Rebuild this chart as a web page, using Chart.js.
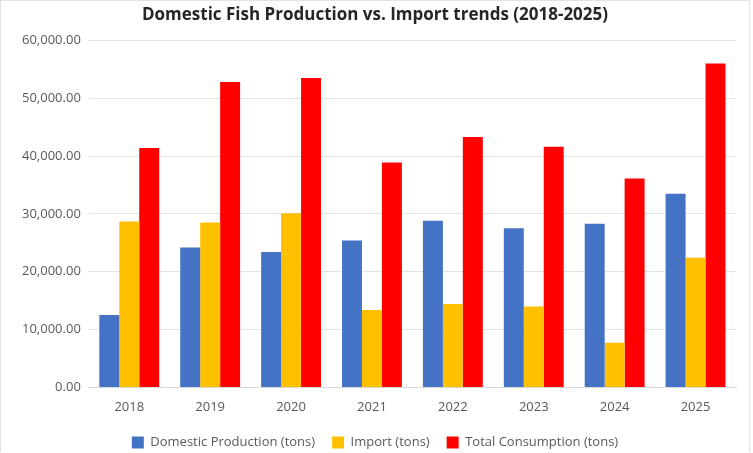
<!DOCTYPE html>
<html>
<head>
<meta charset="utf-8">
<script src="https://cdn.jsdelivr.net/npm/chart.js@4.4.1/dist/chart.umd.min.js"></script>
<style>
  html, body { margin: 0; padding: 0; background: #fff; }
  .frame { width: 750px; height: 452px; border: 1px solid #e3e3e3; border-bottom: none; box-sizing: border-box; position: relative; }
  canvas { position: absolute; left: -1px; top: -1px; }
</style>
</head>
<body>
<div class="frame"><canvas id="fishChart" width="753" height="453"></canvas></div>
<script>
// values (tons)
const years = ['2018', '2019', '2020', '2021', '2022', '2023', '2024', '2025']
const domesticProduction = [12500, 24200, 23400, 25400, 28800, 27500, 28300, 33500]
const imports = [28700, 28500, 30100, 13400, 14400, 14000, 7700, 22400]
const totalConsumption = [41400, 52800, 53500, 38900, 43300, 41600, 36100, 56000]

const seriesNames = ['Domestic Production (tons)', 'Import (tons)', 'Total Consumption (tons)']
const seriesColors = ['#4472C4', '#FFC000', '#FF0000']

const fontFamily = "'Open Sans', 'Liberation Sans', sans-serif"

function makeDataset(i, values) {
  return {
    label: seriesNames[i],
    data: values,
    backgroundColor: seriesColors[i],
    borderWidth: 0,
    categoryPercentage: 0.74,
    barPercentage: 1.0
  }
}

const ctx = document.getElementById('fishChart')
const myChart = new Chart(ctx, {
  type: 'bar',
  data: {
    labels: years,
    datasets: [
      makeDataset(0, domesticProduction),
      makeDataset(1, imports),
      makeDataset(2, totalConsumption)
    ]
  },
  options: {
    responsive: false,
    animation: false,
    devicePixelRatio: 1,
    // negative bottom padding: legend padding is big for the horizontal gaps, pull it back down
    layout: { padding: { left: 14, right: 17, top: 3, bottom: -6 } },
    plugins: {
      title: {
        display: true,
        text: 'Domestic Fish Production vs. Import trends (2018-2025)',
        color: '#262626',
        font: { family: fontFamily, size: 17, weight: 'bold' },
        padding: { top: 2, bottom: 15 }
      },
      legend: {
        position: 'bottom',
        labels: {
          color: '#595959',
          font: { family: fontFamily, size: 13 },
          boxWidth: 12,
          boxHeight: 12,
          padding: 17
        }
      },
      tooltip: { enabled: false }
    },
    scales: {
      x: {
        grid: { display: false },
        border: { display: true, color: '#d9d9d9' },
        ticks: {
          color: '#595959',
          font: { family: fontFamily, size: 13 },
          padding: 4
        }
      },
      y: {
        min: 0,
        max: 60000,
        grid: { color: '#e3e3e3', drawTicks: false },
        border: { display: false },
        ticks: {
          stepSize: 10000,
          color: '#595959',
          font: { family: fontFamily, size: 13 },
          padding: 8,
          callback: (v) => v.toLocaleString('en-US', { minimumFractionDigits: 2, maximumFractionDigits: 2 })
        }
      }
    }
  }
})
</script>
</body>
</html>
